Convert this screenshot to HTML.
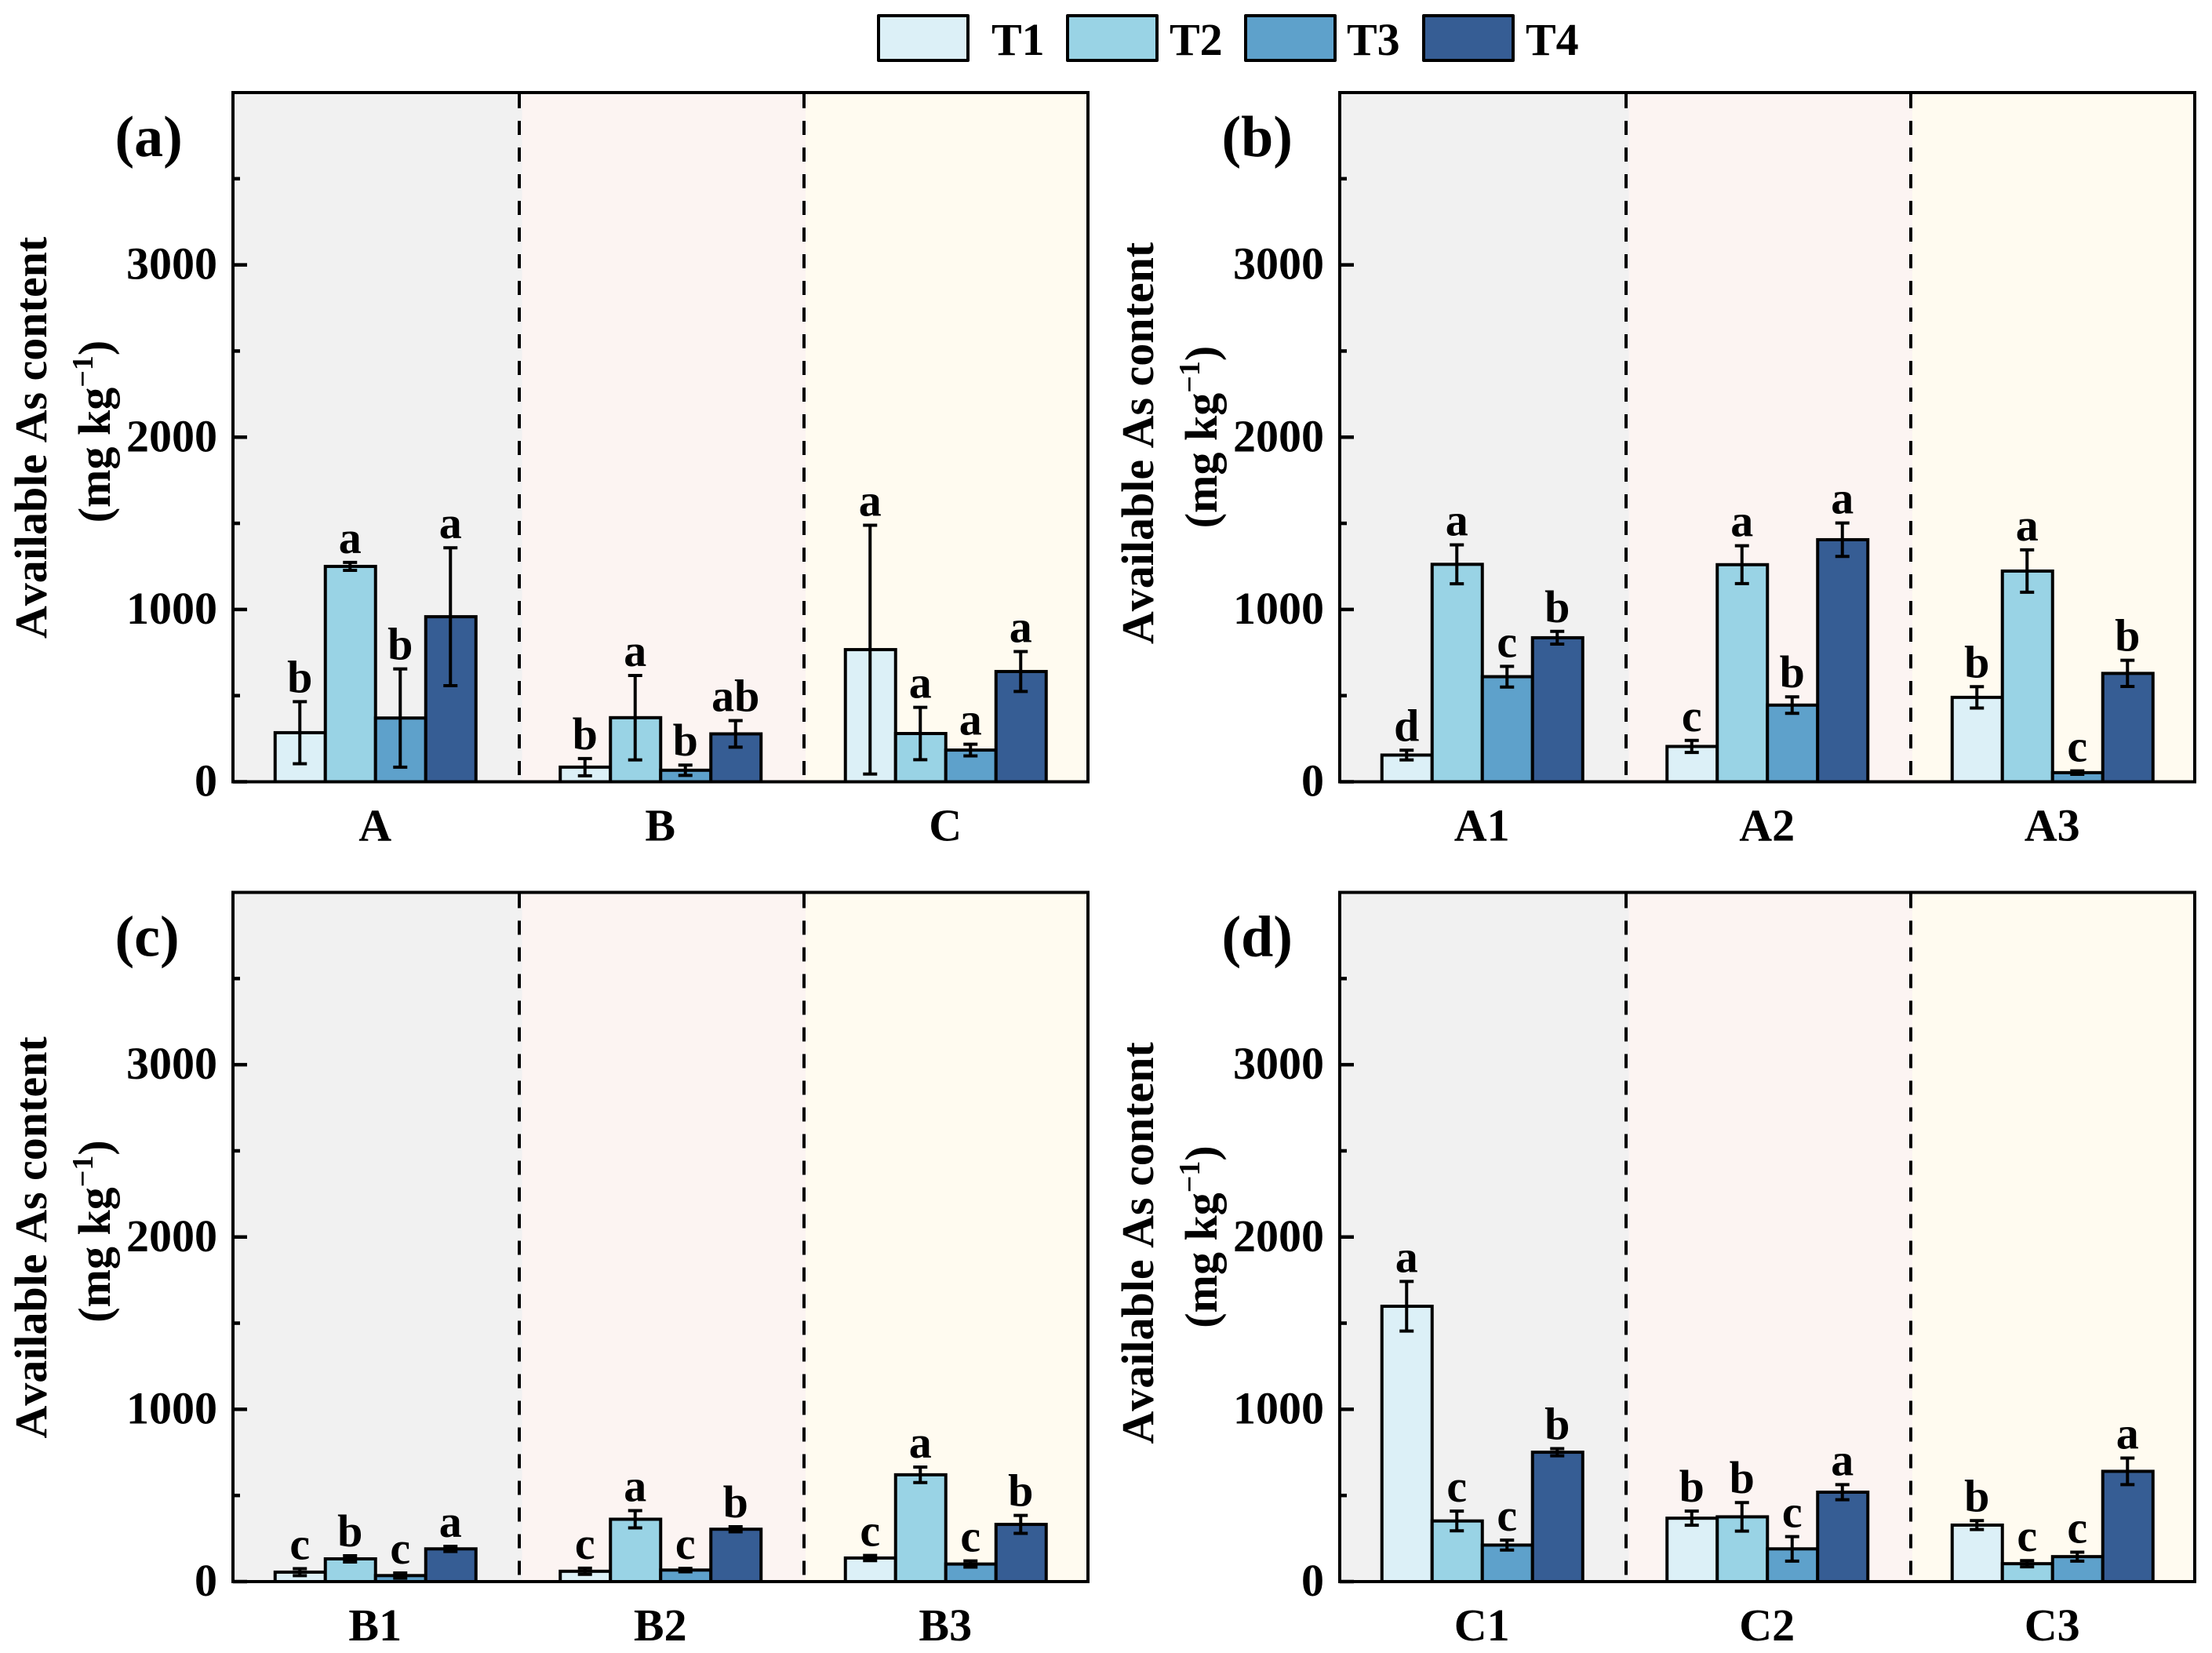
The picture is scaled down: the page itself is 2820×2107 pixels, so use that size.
<!DOCTYPE html>
<html lang="en">
<head>
<meta charset="utf-8">
<title>Available As content by treatment</title>
<style>
  html, body { margin: 0; padding: 0; background: #fff; }
  svg { display: block; }
  text { font-family: "Liberation Serif", serif; font-weight: bold; fill: #000; font-kerning: none; }
</style>
</head>
<body>
<svg id="chart" xmlns="http://www.w3.org/2000/svg" width="2820" height="2107" viewBox="0 0 2820 2107"></svg>
<script>
// ---- Data ----
const seriesLabels = ['T1', 'T2', 'T3', 'T4'];
const yTickLabels = [0, 1000, 2000, 3000];
const yMinorTicks = [500, 1500, 2500, 3500];

const panelACategories = ['A', 'B', 'C'];
const panelAMeans = [[285, 1250, 370, 958], [85, 372, 67, 278], [767, 280, 184, 640]];
const panelAErrors = [[180, 23, 285, 400], [50, 245, 30, 77], [722, 152, 34, 116]];
const panelALetters = [['b', 'a', 'b', 'a'], ['b', 'a', 'b', 'ab'], ['a', 'a', 'a', 'a']];

const panelBCategories = ['A1', 'A2', 'A3'];
const panelBMeans = [[155, 1262, 610, 836], [205, 1260, 445, 1405], [490, 1223, 53, 629]];
const panelBErrors = [[28, 113, 60, 37], [35, 110, 48, 97], [62, 123, 10, 76]];
const panelBLetters = [['d', 'a', 'c', 'b'], ['c', 'a', 'b', 'a'], ['b', 'a', 'c', 'b']];

const panelCCategories = ['B1', 'B2', 'B3'];
const panelCMeans = [[55, 132, 35, 190], [60, 362, 67, 304], [137, 620, 102, 332]];
const panelCErrors = [[20, 18, 15, 15], [18, 50, 10, 15], [15, 45, 18, 52]];
const panelCLetters = [['c', 'b', 'c', 'a'], ['c', 'a', 'c', 'b'], ['c', 'a', 'c', 'b']];

const panelDCategories = ['C1', 'C2', 'C3'];
const panelDMeans = [[1598, 352, 212, 751], [368, 376, 190, 519], [328, 104, 145, 640]];
const panelDErrors = [[144, 57, 29, 21], [41, 83, 71, 44], [26, 18, 26, 77]];
const panelDLetters = [['a', 'c', 'c', 'b'], ['b', 'b', 'c', 'a'], ['b', 'c', 'c', 'a']];

// ---- Styling / layout ----
const seriesColors = ['#DCF0F7', '#99D3E5', '#5EA1CB', '#365D94'];
const bandColors = ['#F1F1F1', '#FCF4F2', '#FFFBF0'];
const panelWidth = 1090;
const bandWidth = 363.5;
const barWidth = 64;
const plotHeight = 878.5;
const yMax = 4000;
const NS = 'http://www.w3.org/2000/svg';
const root = document.getElementById('chart');

function make(tag, attrs, parent, text) {
  const el = document.createElementNS(NS, tag);
  for (const k in attrs) el.setAttribute(k, attrs[k]);
  if (text !== undefined) el.textContent = text;
  parent.appendChild(el);
  return el;
}

function drawLegend() {
  const g = make('g', {}, root);
  
  
  const boxLefts = [1120, 1361, 1588, 1815];
  const textLefts = [1264, 1491, 1717, 1945];
  seriesLabels.forEach(function (label, i) {
    const box = make('rect', { x: boxLefts[i], y: 20, width: 114, height: 57, fill: seriesColors[i], stroke: '#000', 'stroke-width': 4, 'stroke-linejoin': 'round' }, g);
    
    
    const t = make('text', { x: textLefts[i], y: 70, 'font-size': 58 }, g, label);
    
    
  });
}

function drawPanel(cfg) {
  const left = cfg.left, top = cfg.top, base = top + plotHeight;
  const yScale = function (v) { return base - (v / yMax) * plotHeight; };
  const xCenter = function (i) { return left + bandWidth / 2 + i * bandWidth; };
  const xBar = function (i, s) { return xCenter(i) + (s - 2) * barWidth; };
  const dividers = [left + 365, left + 728];
  const bandEdges = [left + 368.5, left + 730, left + panelWidth];

  const g = make('g', {}, root);
  
  

  // background bands
  let prev = left;
  bandEdges.forEach(function (d, i) {
    const r = make('rect', { x: prev, y: top, width: d - prev, height: plotHeight, fill: bandColors[i] }, g);
    
    
    prev = d;
  });

  // dashed dividers
  dividers.forEach(function (d, i) {
    const l = make('line', { x1: d, x2: d, y1: top + 2, y2: base, stroke: '#000', 'stroke-width': 4, 'stroke-dasharray': '18 16' }, g);
    
    
  });

  // bars
  cfg.means.forEach(function (row, i) {
    row.forEach(function (v, s) {
      const y = yScale(v);
      const b = make('rect', { x: xBar(i, s), y: y, width: barWidth, height: base - y, fill: seriesColors[s], stroke: '#000', 'stroke-width': 4 }, g);
      
      
    });
  });

  // error bars and letters
  cfg.means.forEach(function (row, i) {
    row.forEach(function (v, s) {
      const cx = xBar(i, s) + barWidth / 2 - 0.5;
      const yHi = yScale(v + cfg.errors[i][s]);
      const yLo = yScale(v - cfg.errors[i][s]);
      const e = make('path', { d: 'M' + cx + ' ' + yHi + 'V' + yLo + 'M' + (cx - 9) + ' ' + yHi + 'H' + (cx + 9) + 'M' + (cx - 9) + ' ' + yLo + 'H' + (cx + 9), fill: 'none', stroke: '#000', 'stroke-width': 4 }, g);
      
      
      const t = make('text', { x: cx, y: yHi - 12, 'font-size': 58, 'text-anchor': 'middle' }, g, cfg.letters[i][s]);
      
      
    });
  });

  // ticks
  yMinorTicks.forEach(function (v) {
    const y = yScale(v);
    const l = make('line', { x1: left, x2: left + 9, y1: y, y2: y, stroke: '#000', 'stroke-width': 4.5 }, g);
    
    
  });
  yTickLabels.forEach(function (v) {
    const y = yScale(v);
    const l = make('line', { x1: left, x2: left + 18, y1: y, y2: y, stroke: '#000', 'stroke-width': 4.5 }, g);
    
    
    const t = make('text', { x: left - 20, y: y + 18, 'font-size': 58, 'text-anchor': 'end' }, g, String(v));
    
    
  });

  // spines
  const frame = make('rect', { x: left, y: top, width: panelWidth, height: plotHeight, fill: 'none', stroke: '#000', 'stroke-width': 4 }, g);
  
  

  // category labels
  cfg.categories.forEach(function (c, i) {
    const t = make('text', { x: xCenter(i) - 0.5, y: base + 75, 'font-size': 58, 'text-anchor': 'middle' }, g, c);
    
    
  });

  // y-axis title
  const cy = top + cfg.titleShift + 440;
  const title1 = make('text', { transform: 'translate(' + (left - 238) + ' ' + cy + ') rotate(-90)', 'font-size': 58, 'text-anchor': 'middle' }, g, 'Available As content');
  
  
  const title2 = make('text', { transform: 'translate(' + (left - 157) + ' ' + (cy - 8) + ') rotate(-90)', 'font-size': 58, 'text-anchor': 'middle' }, g);
  
  
  make('tspan', {}, title2, '(mg kg');
  make('tspan', { 'font-size': 38, dy: -22 }, title2, '\u22121');
  make('tspan', { dy: 22 }, title2, ')');

  // panel tag
  const tag = make('text', { x: left - 150.5, y: top + 81, 'font-size': 74 }, g, '(' + cfg.id + ')');
  
  
}

drawLegend();
drawPanel({ id: 'a', left: 297, top: 118, titleShift: 0, categories: panelACategories, means: panelAMeans, errors: panelAErrors, letters: panelALetters });
drawPanel({ id: 'b', left: 1708, top: 118, titleShift: 7, categories: panelBCategories, means: panelBMeans, errors: panelBErrors, letters: panelBLetters });
drawPanel({ id: 'c', left: 297, top: 1137.5, titleShift: 0, categories: panelCCategories, means: panelCMeans, errors: panelCErrors, letters: panelCLetters });
drawPanel({ id: 'd', left: 1708, top: 1137.5, titleShift: 7, categories: panelDCategories, means: panelDMeans, errors: panelDErrors, letters: panelDLetters });
</script>
</body>
</html>
